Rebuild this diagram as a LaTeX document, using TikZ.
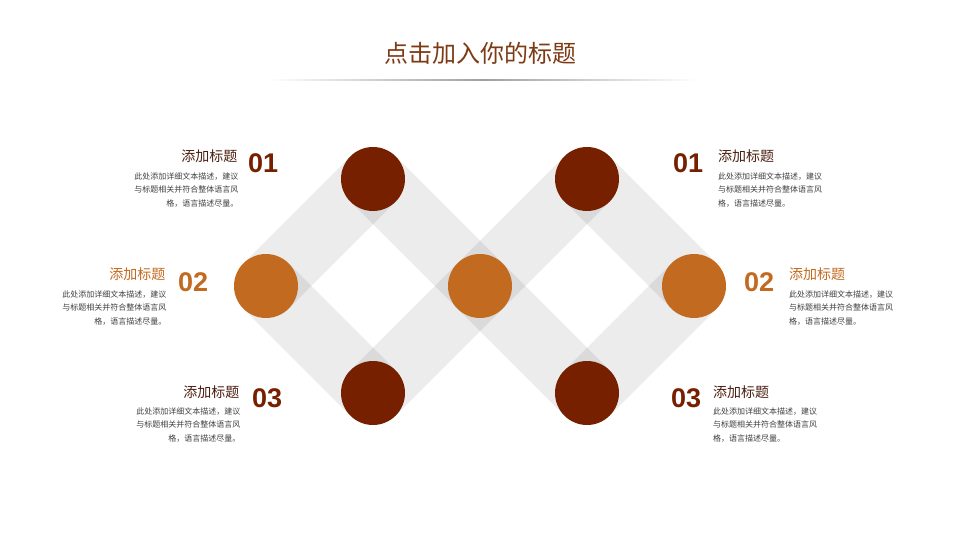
\documentclass[tikz,border=0pt]{standalone}
\usepackage{fontspec}
\newfontfamily\cjk{Noto Sans CJK SC}
\newfontfamily\numfont{Liberation Sans}
\definecolor{darkc}{HTML}{772000}
\definecolor{orangec}{HTML}{C26A1F}
\definecolor{titlec}{HTML}{7E3A14}
\definecolor{headc}{HTML}{4A1E0F}
\definecolor{bodyc}{HTML}{404040}
\tikzset{
  band/.style={draw=black, draw opacity=0.075, line width=64pt, line cap=butt},
  dot/.style={circle, minimum size=64pt, inner sep=0pt, draw=none},
  darkdot/.style={dot, fill=darkc},
  orangedot/.style={dot, fill=orangec},
  head/.style={inner sep=0pt, font=\cjk\fontsize{14}{16}\selectfont},
  num/.style={inner sep=0pt, font=\numfont\bfseries\fontsize{27}{30}\selectfont},
  body/.style={inner sep=0pt, text=bodyc, font=\cjk\fontsize{8}{13.5}\selectfont},
}
\begin{document}
\begin{tikzpicture}[x=1pt,y=-1pt]
\useasboundingbox (0,0) rectangle (960,540);
\fill[white] (0,0) rectangle (960,540);
% title
\node[inner sep=0pt, text=titlec, font=\cjk\fontsize{24}{27}\selectfont] (title) at (480,53) {点击加入你的标题};
\shade[left color=white, right color=gray!75] (268,79.3) rectangle (483,80.7);
\shade[left color=gray!75, right color=white] (483,79.3) rectangle (698,80.7);
% vertex coordinates
\coordinate (ptl) at (373,179);
\coordinate (pml) at (266,286);
\coordinate (pbl) at (373,393);
\coordinate (pc)  at (480,286);
\coordinate (ptr) at (587,179);
\coordinate (pmr) at (694,286);
\coordinate (pbr) at (587,393);
% bands
\draw[band] (pml) -- (ptl);
\draw[band] (pml) -- (pbl);
\draw[band] (ptl) -- (pc);
\draw[band] (pc) -- (pbr);
\draw[band] (pbl) -- (pc);
\draw[band] (pc) -- (ptr);
\draw[band] (ptr) -- (pmr);
\draw[band] (pmr) -- (pbr);
% circles
\node[darkdot] (ctl) at (ptl) {};
\node[orangedot] (cml) at (pml) {};
\node[darkdot] (cbl) at (pbl) {};
\node[orangedot] (cc) at (pc) {};
\node[darkdot] (ctr) at (ptr) {};
\node[orangedot] (cmr) at (pmr) {};
\node[darkdot] (cbr) at (pbr) {};
% left 01
\node[head, text=headc, anchor=east] (h1l) at (237.5,156) {添加标题};
\node[num, text=darkc, anchor=west] (n1l) at (248,163) {01};
\node[body, anchor=north east, align=right] (b1l) at (238.5,172.5) {此处添加详细文本描述，建议\\与标题相关并符合整体语言风\\格，语言描述尽量。};
% left 02
\node[head, text=orangec, anchor=east] (h2l) at (165.5,274) {添加标题};
\node[num, text=orangec, anchor=west] (n2l) at (178,282) {02};
\node[body, anchor=north east, align=right] (b2l) at (166.5,290.5) {此处添加详细文本描述，建议\\与标题相关并符合整体语言风\\格，语言描述尽量。};
% left 03
\node[head, text=headc, anchor=east] (h3l) at (239.5,392) {添加标题};
\node[num, text=darkc, anchor=west] (n3l) at (252,398) {03};
\node[body, anchor=north east, align=right] (b3l) at (240.5,407.5) {此处添加详细文本描述，建议\\与标题相关并符合整体语言风\\格，语言描述尽量。};
% right 01
\node[num, text=darkc, anchor=west] (n1r) at (673,163) {01};
\node[head, text=headc, anchor=west] (h1r) at (718,156) {添加标题};
\node[body, anchor=north west, align=left] (b1r) at (718,172.5) {此处添加详细文本描述，建议\\与标题相关并符合整体语言风\\格，语言描述尽量。};
% right 02
\node[num, text=orangec, anchor=west] (n2r) at (744,282) {02};
\node[head, text=orangec, anchor=west] (h2r) at (789,274) {添加标题};
\node[body, anchor=north west, align=left] (b2r) at (789,290.5) {此处添加详细文本描述，建议\\与标题相关并符合整体语言风\\格，语言描述尽量。};
% right 03
\node[num, text=darkc, anchor=west] (n3r) at (671,398) {03};
\node[head, text=headc, anchor=west] (h3r) at (713,392) {添加标题};
\node[body, anchor=north west, align=left] (b3r) at (713,407.5) {此处添加详细文本描述，建议\\与标题相关并符合整体语言风\\格，语言描述尽量。};
\end{tikzpicture}
\end{document}
